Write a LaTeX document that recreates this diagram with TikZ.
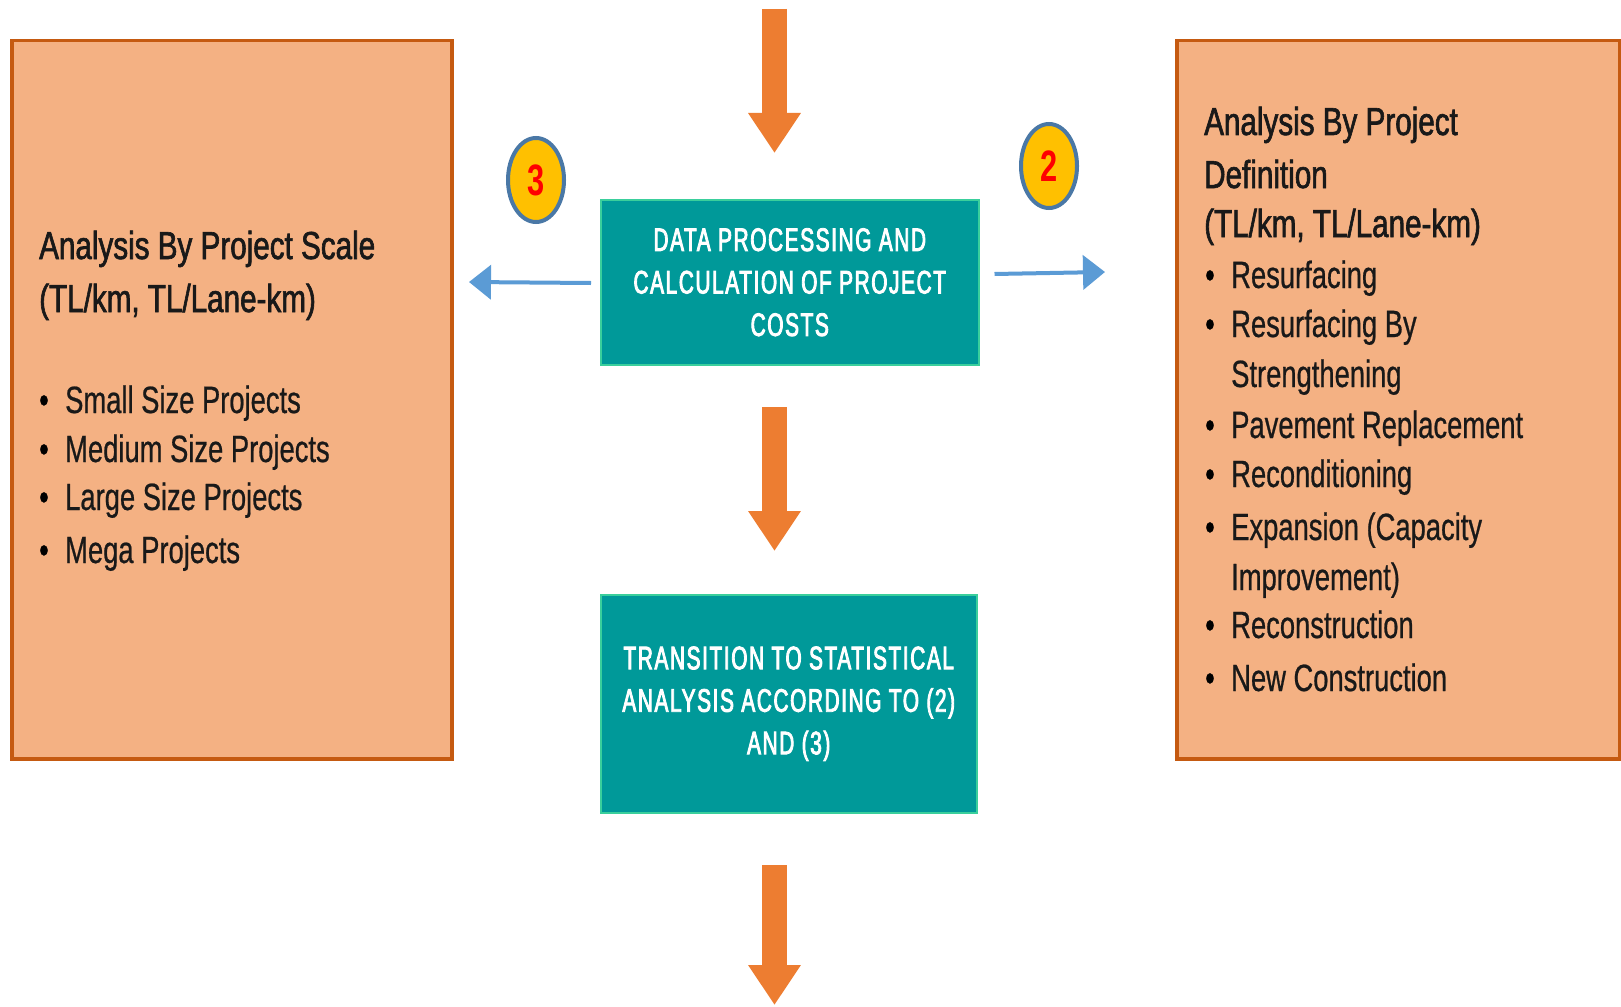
\documentclass[tikz,border=0pt]{standalone}
\usepackage{fontspec}
\setmainfont{Liberation Sans}[FakeStretch=0.72, FakeBold=0.6]
\newfontfamily\headfont{Liberation Sans}[FakeStretch=0.76, FakeBold=1.6]
\newfontfamily\tealfont{Liberation Sans}[FakeStretch=0.64, FakeBold=2.6, LetterSpace=5]
\newfontfamily\numfont{Liberation Sans}[FakeStretch=0.7]
\usetikzlibrary{arrows.meta,shapes.geometric}
\definecolor{peach}{HTML}{F4B183}
\definecolor{rust}{HTML}{C55A11}
\definecolor{tealbox}{HTML}{009999}
\definecolor{mint}{HTML}{3ACF9C}
\definecolor{arrorange}{HTML}{ED7D31}
\definecolor{arrblue}{HTML}{5B9BD5}
\definecolor{badgefill}{HTML}{FFC000}
\definecolor{badgeline}{HTML}{4A78A6}
\tikzset{
  x=1pt, y=-1pt,
  sidebox/.style={draw=rust, fill=peach, line width=3.5pt, rectangle, inner sep=0pt},
  tealnode/.style={draw=mint, fill=tealbox, line width=1.5pt, rectangle, inner sep=0pt,
     text=white, align=center, font=\tealfont\fontsize{32.5}{42.5}\selectfont},
  headtxt/.style={anchor=base west, inner sep=0pt, text=black!90, font=\headfont\fontsize{39}{46}\selectfont},
  bodytxt/.style={anchor=base west, inner sep=0pt, text=black!90, font=\fontsize{38}{46}\selectfont},
  bulletmark/.style={anchor=base west, inner sep=0pt, font=\fontsize{38}{46}\selectfont},
  flowarrow/.style={draw=arrorange, line width=25pt, line cap=butt,
     -{Triangle[width=50pt,length=40pt]}},
  sidearrow/.style={draw=arrblue, line width=4pt,
     -{Triangle[width=34pt,length=22pt]}},
  badge/.style={ellipse, draw=badgeline, fill=badgefill, line width=4pt,
     minimum width=56pt, minimum height=84pt, inner sep=0pt, text=red,
     font=\numfont\bfseries\fontsize{44}{44}\selectfont},
}
\begin{document}
\begin{tikzpicture}
\useasboundingbox (0,0) rectangle (1621,1006);
\fill[white] (0,0) rectangle (1621,1006);

% side boxes
\node[sidebox, minimum width=440pt, minimum height=718pt, anchor=north west] (lbox) at (10,39) {};
\node[sidebox, minimum width=443pt, minimum height=718pt, anchor=north west] (rbox) at (1175,39) {};

% teal boxes
\node[tealnode, minimum width=378pt, minimum height=165pt, anchor=north west] (dp) at (600,199)
  {DATA PROCESSING AND\\CALCULATION OF PROJECT\\COSTS};
\node[tealnode, minimum width=376pt, minimum height=218pt, anchor=north west] (tr) at (600,594)
  {TRANSITION TO STATISTICAL\\ANALYSIS ACCORDING TO (2)\\AND (3)};

% left box text
\node[headtxt] (lt1) at (39,259) {Analysis By Project Scale};
\node[headtxt] (lt2) at (39,312) {(TL/km, TL/Lane-km)};
\node[bulletmark] (lb1) at (39,413) {\textbullet};
\node[bodytxt] (li1) at (65,413) {Small Size Projects};
\node[bulletmark] (lb2) at (39,462) {\textbullet};
\node[bodytxt] (li2) at (65,462) {Medium Size Projects};
\node[bulletmark] (lb3) at (39,510) {\textbullet};
\node[bodytxt] (li3) at (65,510) {Large Size Projects};
\node[bulletmark] (lb4) at (39,563) {\textbullet};
\node[bodytxt] (li4) at (65,563) {Mega Projects};

% right box text
\node[headtxt] (rt1) at (1204,135) {Analysis By Project};
\node[headtxt] (rt2) at (1204,188) {Definition};
\node[headtxt] (rt3) at (1204,237) {(TL/km, TL/Lane-km)};
\node[bulletmark] (rb1) at (1205,288) {\textbullet};
\node[bodytxt] (ri1) at (1231,288) {Resurfacing};
\node[bulletmark] (rb2) at (1205,337) {\textbullet};
\node[bodytxt] (ri2) at (1231,337) {Resurfacing By};
\node[bodytxt] (ri2b) at (1231,387) {Strengthening};
\node[bulletmark] (rb3) at (1205,438) {\textbullet};
\node[bodytxt] (ri3) at (1231,438) {Pavement Replacement};
\node[bulletmark] (rb4) at (1205,487) {\textbullet};
\node[bodytxt] (ri4) at (1231,487) {Reconditioning};
\node[bulletmark] (rb5) at (1205,540) {\textbullet};
\node[bodytxt] (ri5) at (1231,540) {Expansion (Capacity};
\node[bodytxt] (ri5b) at (1231,590) {Improvement)};
\node[bulletmark] (rb6) at (1205,638) {\textbullet};
\node[bodytxt] (ri6) at (1231,638) {Reconstruction};
\node[bulletmark] (rb7) at (1205,691) {\textbullet};
\node[bodytxt] (ri7) at (1231,691) {New Construction};

% badges
\node[badge] (b3) at (536,180) {3};
\node[badge] (b2) at (1049,166) {2};

% flow arrows
\coordinate (topStart) at (774.5,9);
\coordinate (topEnd) at (774.5,153);
\coordinate (midStart) at (774.5,407);
\coordinate (midEnd) at (774.5,551);
\coordinate (botStart) at (774.5,865);
\coordinate (botEnd) at (774.5,1005);
\draw[flowarrow] (topStart) -- (topEnd);
\draw[flowarrow] (midStart) -- (midEnd);
\draw[flowarrow] (botStart) -- (botEnd);

% side arrows
\coordinate (lTip) at (469,282);
\coordinate (rTip) at (1105,272);
\draw[sidearrow] ([xshift=-9pt]dp.west |- 0,283) -- (lTip);
\draw[sidearrow] ([xshift=15pt]dp.east |- 0,274) -- (rTip);
\end{tikzpicture}
\end{document}
